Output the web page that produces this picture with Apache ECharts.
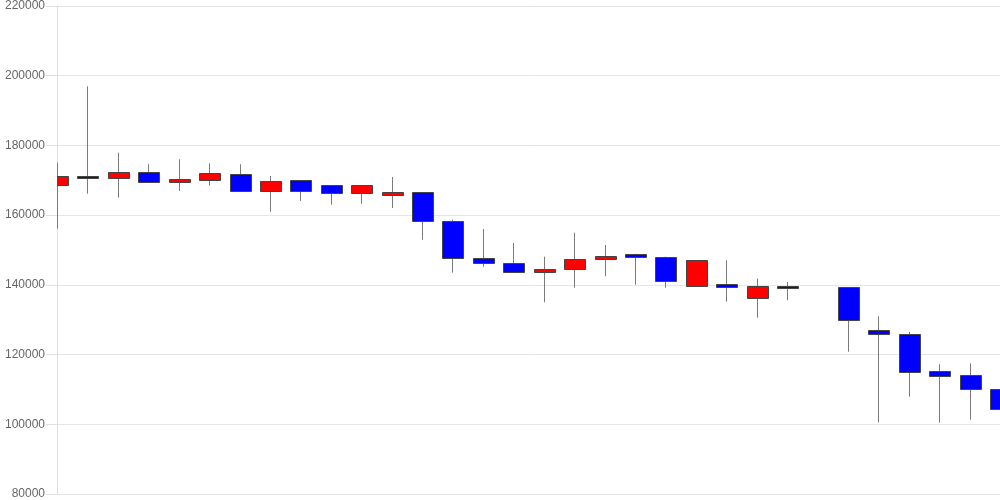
<!DOCTYPE html>
<html>
<head>
<meta charset="utf-8">
<script src="https://cdn.jsdelivr.net/npm/echarts@6/dist/echarts.min.js"></script>
<style>
html,body{margin:0;padding:0;background:#fff;}
#chart{width:1000px;height:500px;}
</style>
</head>
<body>
<div id="chart"></div>
<script>
// categories (sessions), one gap at index 25
var categories = ['1','2','3','4','5','6','7','8','9','10','11','12','13','14','15','16',
  '17','18','19','20','21','22','23','24','25','26','27','28','29','30','31','32'];
// OHLC values
var opens  = [168650,171350,170570,172380,169510,170170,171900,167020,169990,168650,166270,165900,166640,158320,147620,146270,143610,144470,147450,148900,148080,139580,140340,136330,139750,null,139300,127050,125900,115200,114050,110120];
var closes = [171150,170650,172380,169420,170370,172150,167030,169890,167020,166270,168650,166750,158320,147620,146190,143610,144560,147510,148150,147990,141030,147050,139390,139680,139200,null,129830,125820,115090,113850,110030,104470];
var lows   = [156120,166150,165010,169300,166930,168450,167030,160990,164060,163000,163290,162050,152960,143490,145210,143610,135000,139190,142460,140050,139190,139580,135170,130580,135570,null,120830,100570,107920,100460,101320,100090];
var highs  = [175050,196970,177920,174590,176030,174880,174590,171230,169990,168650,168650,170950,166640,158700,156030,152010,148080,154970,151440,148900,148080,147050,147050,141770,140820,null,139300,130980,126480,117210,117500,110120];
var yTicks = {min: 80000, max: 220000, interval: 20000};

var data = [];
categories.forEach(function(c, i){
  if (opens[i] === null) return;
  data.push([i, opens[i], closes[i], lows[i], highs[i]]);
});

function renderItem(params, api) {
  var xi = api.value(0);
  var o = api.value(1), c = api.value(2), l = api.value(3), h = api.value(4);
  var pO = api.coord([xi, o]);
  var pC = api.coord([xi, c]);
  var pL = api.coord([xi, l]);
  var pH = api.coord([xi, h]);
  var w = api.size([1, 0])[0] * 0.7;
  var x = Math.round(pO[0]) + 0.5;
  var top = Math.min(pO[1], pC[1]);
  var bot = Math.max(pO[1], pC[1]);
  var rx = Math.round(x - w / 2) + 0.5;
  var rw = Math.round(w);
  var ry = Math.round(top) + 0.5;
  var rh = Math.max(Math.round(bot) - Math.round(top), 1);
  return {
    type: 'group',
    children: [
      {type: 'line', shape: {x1: x, y1: pH[1], x2: x, y2: pL[1]},
       style: {stroke: '#7a7a7a', lineWidth: 1}},
      {type: 'rect', shape: {x: rx, y: ry, width: rw, height: rh},
       style: {fill: c > o ? '#ff0000' : '#0000ff', stroke: '#444', lineWidth: 1}}
    ]
  };
}

var chart = echarts.init(document.getElementById('chart'), null, {renderer:'canvas'});
chart.setOption({
  animation: false,
  grid: {left: 57, right: 0, top: 6, bottom: 6, containLabel: false},
  xAxis: {
    type: 'category',
    data: categories,
    boundaryGap: false,
    axisLine: {show: true, lineStyle: {color: '#e6e6e6'}},
    axisTick: {show: false},
    axisLabel: {show: false},
    splitLine: {show: false}
  },
  yAxis: {
    type: 'value',
    min: yTicks.min, max: yTicks.max, interval: yTicks.interval,
    axisLine: {show: true, lineStyle: {color: '#e0e0e0'}},
    axisTick: {show: true, length: 11, lineStyle: {color: '#e0e0e0'}},
    axisLabel: {color: '#666', fontSize: 12, fontFamily: 'Liberation Sans, Arial, sans-serif', margin: 12,
      formatter: function(v){ return String(v); }},
    splitLine: {show: true, lineStyle: {color: '#e6e6e6'}}
  },
  series: [{
    type: 'custom',
    renderItem: renderItem,
    clip: true,
    encode: {x: 0, y: [1, 2, 3, 4]},
    data: data
  }]
});
</script>
</body>
</html>
